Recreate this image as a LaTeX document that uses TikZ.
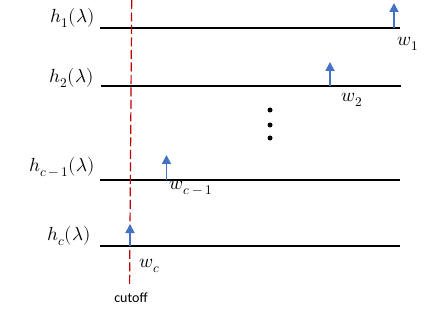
\documentclass[tikz,border=0pt]{standalone}
\usepackage{unicode-math}
\setmathfont{Latin Modern Math}
\newfontfamily\cutfont{Carlito}
\usetikzlibrary{arrows.meta}
\definecolor{arrblue}{HTML}{4472C4}
\definecolor{cutred}{HTML}{C00000}
\newcommand{\cmo}{c\mkern3.5mu{-}\mkern3.5mu1}
\begin{document}
\begin{tikzpicture}[x=1pt,y=-1pt,
  lab/.style={inner sep=0pt,font=\fontsize{19}{22}\selectfont},
  band/.style={line width=1.2pt,black},
  spike/.style={line width=1.8pt,arrblue,-{Triangle[width=9pt,length=9pt]}},
  dotm/.style={circle,fill=black,inner sep=0pt,minimum size=5pt}]
\useasboundingbox (0,0) rectangle (434,334);
% band lines
\coordinate (a1) at (100,28);  \coordinate (b1) at (400,28);
\coordinate (a2) at (101,86);  \coordinate (b2) at (401,86);
\coordinate (a3) at (100,180); \coordinate (b3) at (400,180);
\coordinate (a4) at (100,246); \coordinate (b4) at (400,246);
\draw[band] (a1) -- (b1);
\draw[band] (a2) -- (b2);
\draw[band,line width=2.2pt] (a3) -- (b3);
\draw[band] (a4) -- (b4);
% labels
\node[lab,anchor=east] (h1) at (95,18) {$h_1(\lambda)$};
\node[lab,anchor=east] (h2) at (94,78) {$h_2(\lambda)$};
\node[lab,anchor=east] (h3) at (95,167) {$h_{\cmo}(\lambda)$};
\node[lab,anchor=east] (h4) at (91,236) {$h_c(\lambda)$};
% cutoff line
\node[inner sep=0pt,font=\cutfont\fontsize{14}{16}\selectfont] (cut) at (131,298) {cutoff};
\coordinate (ctop) at (131.7,0);
\coordinate (cbot) at (129.6,284);
\draw[cutred,line width=1.2pt,dash pattern=on 9pt off 3.5pt] (ctop) -- (cbot);
% spikes
\coordinate (s1) at (394,28);  \coordinate (t1) at (394,3);
\coordinate (s2) at (330,86);  \coordinate (t2) at (330,62);
\coordinate (s3) at (166.5,180); \coordinate (t3) at (166.5,155);
\coordinate (s4) at (130,246); \coordinate (t4) at (130,224);
\draw[spike] (s1) -- (t1);
\draw[spike] (s2) -- (t2);
\draw[spike] (s3) -- (t3);
\draw[spike] (s4) -- (t4);
\node[lab] (w1) at (408,44) {$w_1$};
\node[lab] (w2) at (352,100) {$w_2$};
\node[lab] (w3) at (191,188) {$w_{\cmo}$};
\node[lab] (w4) at (150,266) {$w_c$};
% dots
\node[dotm] (d1) at (270,110) {};
\node[dotm] (d2) at (270,125) {};
\node[dotm] (d3) at (270,138) {};
\end{tikzpicture}
\end{document}
